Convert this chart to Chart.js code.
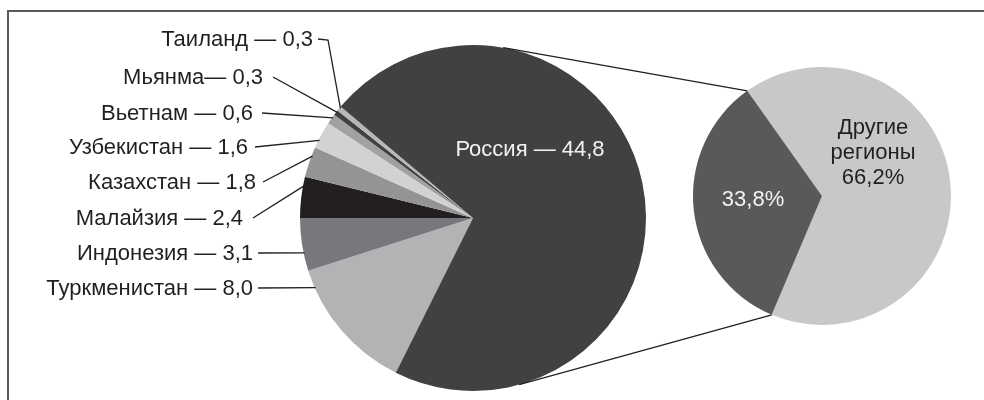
<!DOCTYPE html>
<html>
<head>
<meta charset="utf-8">
<script src="https://cdn.jsdelivr.net/npm/chart.js@4"></script>
<style>
  html, body { margin: 0; padding: 0; background: #fff; }
  #wrap { position: relative; width: 984px; height: 400px; overflow: hidden; }
  #frame { position: absolute; left: 7px; top: 10px; width: 1000px; height: 500px;
           border-left: 2px solid #5a5a5c; border-top: 2px solid #5a5a5c; box-sizing: border-box; }
  canvas { position: absolute; left: 0; top: 0; }
</style>
</head>
<body>
<div id="wrap">
  <div id="frame"></div>
  <canvas id="c1" width="984" height="400"></canvas>
  <canvas id="c2" width="984" height="400"></canvas>
</div>
<script>
// ---------- DATA ----------
const countries = ["Туркменистан", "Индонезия", "Малайзия", "Казахстан", "Узбекистан", "Вьетнам", "Мьянма", "Таиланд", "Россия"];
const countryValues = [8.0, 3.1, 2.4, 1.8, 1.6, 0.6, 0.3, 0.3, 44.8];
const countrySeparators = [" — ", " — ", " — ", " — ", " — ", " — ", "— ", " — ", " — "];
const shareLabels = ["Другие регионы", "Россия"];
const shareValues = [66.2, 33.8];

// ---------- STYLE / LAYOUT ----------
const FONT = '"Liberation Sans", Arial, Helvetica, sans-serif';
const FS = 22;
const INK = '#231f20';
const countryColors = ['#b1b3b5', '#77787b', '#231f20', '#929496', '#d1d2d4', '#a0a1a3', '#404042', '#b6b7b9', '#414042'];
const shareColors = ['#c7c8ca', '#58595b'];
// outside label layout: [text right edge x, text center y, line start x]
const labelLayout = [
  [253, 288, 258], [253, 253, 258], [243, 218, 253], [256, 182, 263],
  [248, 147, 255], [253, 113, 262], [263, 77, 273], [313, 39, 318]
];
const fmt = v => v.toFixed(1).replace('.', ',');

const leaderPlugin = {
  id: 'leaders',
  afterDatasetsDraw(chart) {
    const ctx = chart.ctx;
    const arcs = chart.getDatasetMeta(0).data;
    ctx.save();
    ctx.font = FS + 'px ' + FONT;
    ctx.textBaseline = 'middle';
    ctx.strokeStyle = INK;
    ctx.lineWidth = 1.3;
    for (let i = 0; i < labelLayout.length; i++) {
      const a = arcs[i];
      const [rx, cy, lx] = labelLayout[i];
      const txt = countries[i] + countrySeparators[i] + fmt(countryValues[i]);
      ctx.fillStyle = INK;
      ctx.textAlign = 'right';
      ctx.fillText(txt, rx, cy + 1);
      // endpoint on arc: angle where y equals label y, clamped into slice
      const r = a.outerRadius;
      let s = Math.asin(Math.max(-1, Math.min(1, (cy - a.y) / r)));
      let ang = Math.PI - s; // left half
      const span = a.endAngle - a.startAngle;
      const st = a.startAngle, en = a.endAngle;
      while (ang < st) ang += 2 * Math.PI;
      while (ang > st + 2 * Math.PI) ang -= 2 * Math.PI;
      const m = Math.min(0.3 * span, 3 * Math.PI / 180);
      const lo = st + m, hi = en - m;
      if (ang < lo) ang = lo;
      if (ang > hi) ang = hi;
      const ex = a.x + Math.cos(ang) * (r - 1);
      const ey = a.y + Math.sin(ang) * (r - 1);
      ctx.beginPath();
      ctx.moveTo(lx, cy);
      if (i === labelLayout.length - 1) {
        ctx.lineTo(lx + 10, cy + 1);
      }
      ctx.lineTo(ex, ey);
      ctx.stroke();
    }
    // Russia inner label
    const ru = arcs[arcs.length - 1];
    ctx.fillStyle = '#f2f2f2';
    ctx.textAlign = 'center';
    ctx.fillText(countries[8] + countrySeparators[8] + fmt(countryValues[8]), ru.x + 57, ru.y - 68);
    ctx.restore();
  }
};

const chart1 = new Chart(document.getElementById('c1'), {
  type: 'pie',
  data: {
    labels: countries,
    datasets: [{ data: countryValues, backgroundColor: countryColors, borderWidth: 0 }]
  },
  options: {
    responsive: false,
    animation: false,
    rotation: 206.5,
    layout: { padding: { left: 300, right: 338, top: 45, bottom: 9 } },
    plugins: { legend: { display: false }, tooltip: { enabled: false } }
  },
  plugins: [leaderPlugin]
});

const connectorPlugin = {
  id: 'connectors',
  afterDatasetsDraw(chart) {
    const ctx = chart.ctx;
    const small = chart.getDatasetMeta(0).data[1];
    const big = chart1.getDatasetMeta(0).data[0];
    const R = big.outerRadius, cx = big.x, cy = big.y;
    const r = small.outerRadius;
    const pts = [small.endAngle, small.startAngle].map(t => [small.x + Math.cos(t) * r, small.y + Math.sin(t) * r]);
    ctx.save();
    ctx.strokeStyle = INK;
    ctx.lineWidth = 1.3;
    pts.forEach((p, k) => {
      const dx = p[0] - cx, dy = p[1] - cy;
      const d = Math.hypot(dx, dy);
      const dir = Math.atan2(dy, dx);
      const alpha = Math.acos(R / d);
      const t = k === 0 ? dir - alpha : dir + alpha;
      ctx.beginPath();
      ctx.moveTo(p[0], p[1]);
      ctx.lineTo(cx + Math.cos(t) * R, cy + Math.sin(t) * R);
      ctx.stroke();
    });
    ctx.font = FS + 'px ' + FONT;
    ctx.textAlign = 'center';
    ctx.textBaseline = 'middle';
    ctx.fillStyle = INK;
    const [w1, w2] = shareLabels[0].split(' ');
    const ox = small.x + 51, oy = small.y - 43;
    ctx.fillText(w1, ox, oy - 25);
    ctx.fillText(w2, ox, oy);
    ctx.fillText(fmt(shareValues[0]) + '%', ox, oy + 25);
    ctx.fillStyle = '#f2f2f2';
    ctx.fillText(fmt(shareValues[1]) + '%', small.x - 69, small.y + 4);
    ctx.restore();
  }
};

new Chart(document.getElementById('c2'), {
  type: 'pie',
  data: {
    labels: shareLabels,
    datasets: [{ data: shareValues, backgroundColor: shareColors, borderWidth: 0 }]
  },
  options: {
    responsive: false,
    animation: false,
    rotation: -35.4,
    layout: { padding: { left: 693, right: 33, top: 67, bottom: 75 } },
    plugins: { legend: { display: false }, tooltip: { enabled: false } }
  },
  plugins: [connectorPlugin]
});
</script>
</body>
</html>
